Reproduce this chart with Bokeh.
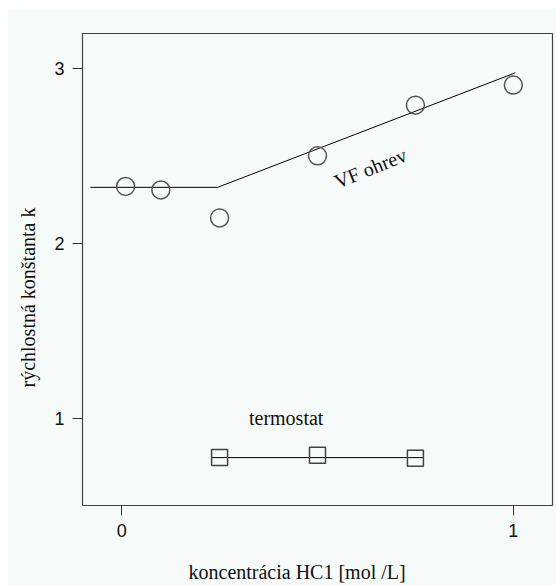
import math
from bokeh.plotting import figure
from bokeh.models import Range1d, FixedTicker, Label, Title, LinearAxis
from bokeh.embed import file_html
from bokeh.resources import INLINE

# ---- data ----
vf_conc = [0.01, 0.10, 0.25, 0.50, 0.75, 1.00]
vf_k = [2.325, 2.305, 2.145, 2.50, 2.79, 2.905]
vf_fit_conc = [-0.08, 0.245, 1.005]
vf_fit_k = [2.32, 2.32, 2.975]
term_conc = [0.25, 0.50, 0.75]
term_k = [0.775, 0.787, 0.771]
term_fit_conc = [0.228, 0.77]
term_fit_k = [0.774, 0.774]
x_ticks = [0, 1]
y_ticks = [1, 2, 3]

SERIF = "Liberation Serif"
SANS = "Liberation Sans"
PANEL = "#f6faf8"

p = figure(width=549, height=577, output_backend="svg", toolbar_location=None,
           x_range=Range1d(-0.1, 1.1), y_range=Range1d(0.5, 3.2),
           min_border_left=74, min_border_right=4, min_border_top=25, min_border_bottom=80,
           background_fill_color=PANEL, border_fill_color=PANEL)
p.margin = (8, 0, 0, 7)
p.grid.visible = False
p.outline_line_color = "#444444"
p.outline_line_width = 1.2

for ax in (p.xaxis[0], p.yaxis[0]):
    ax.axis_line_color = None
    ax.minor_tick_line_color = None
    ax.major_tick_in = 0
    ax.major_tick_out = 10
    ax.major_tick_line_color = "#333333"
    ax.major_label_text_font = SANS
    ax.major_label_text_font_size = "18px"
    ax.major_label_text_color = "#111111"
    ax.major_label_standoff = 8
p.xaxis.ticker = FixedTicker(ticks=x_ticks)
p.yaxis.ticker = FixedTicker(ticks=y_ticks)


def spacer(px, at):
    # an axis whose only tick is drawn in the background colour and has no label:
    # it just reserves room between the tick labels and the axis title
    return LinearAxis(ticker=FixedTicker(ticks=[at]), major_tick_out=px, major_tick_in=0,
                      minor_tick_out=0, minor_tick_in=0, axis_line_color=None,
                      major_tick_line_color=PANEL, minor_tick_line_color=None,
                      major_label_text_color=None, major_label_standoff=0)


p.add_layout(spacer(19, 0.5), "below")
p.add_layout(spacer(6, 2.0), "left")

# lines
p.line(vf_fit_conc, vf_fit_k, line_color="black", line_width=1)
p.line(term_fit_conc, term_fit_k, line_color="black", line_width=1)

# markers
p.scatter(vf_conc, vf_k, marker="circle", size=18, fill_color=None,
          line_color="#555555", line_width=1.5)
p.scatter(term_conc, term_k, marker="square", size=16, fill_color=None,
          line_color="#444444", line_width=1.5)

# annotations inside the frame
p.add_layout(Label(x=0.635, y=2.43, text="VF ohrev", angle=math.radians(22),
                   text_align="center", text_baseline="middle",
                   text_font=SERIF, text_font_size="20px", text_color="#111111"))
p.add_layout(Label(x=0.42, y=1.0, text="termostat",
                   text_align="center", text_baseline="alphabetic",
                   text_font=SERIF, text_font_size="20px", text_color="#111111"))

# axis titles, positioned as in the reference
p.add_layout(Title(text="koncentrácia HC1 [mol /L]", align="left", offset=106,
                   standoff=0, text_font=SERIF, text_font_size="20px",
                   text_font_style="normal", text_color="#111111"), "below")
p.add_layout(Title(text="rýchlostná konštanta k", align="left", offset=118,
                   standoff=14, text_font=SERIF, text_font_size="20px",
                   text_font_style="normal", text_color="#111111"), "left")

open("out.html", "w").write(file_html(p, INLINE))
